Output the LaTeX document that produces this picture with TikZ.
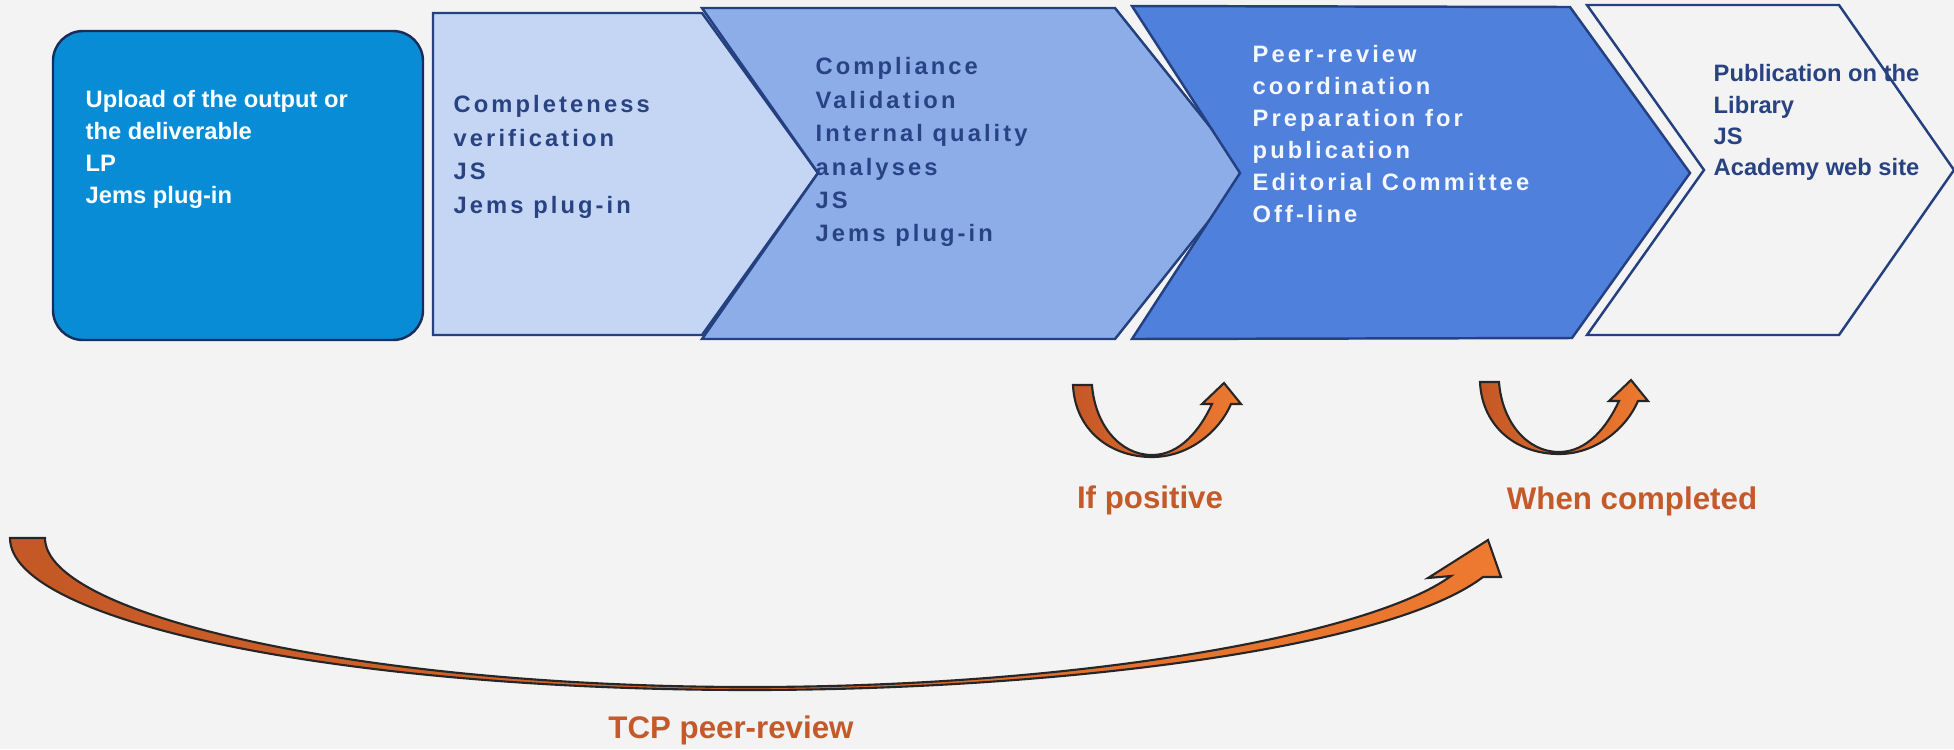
\documentclass[tikz,border=0pt]{standalone}
\usepackage{fontspec}
\setmainfont{Liberation Sans}
\newfontfamily\spacedfont[LetterSpace=13]{Liberation Sans}
\usepackage{xcolor}
\usepackage{tikz}
\definecolor{bgcol}{RGB}{243,243,243}
\definecolor{navy}{RGB}{36,64,128}
\definecolor{txtnavy}{RGB}{40,66,130}
\definecolor{uploadblue}{RGB}{8,140,214}
\definecolor{paleblue}{RGB}{197,214,244}
\definecolor{midblue}{RGB}{140,173,232}
\definecolor{deepblue}{RGB}{78,128,220}
\definecolor{arrowdark}{RGB}{196,88,38}
\definecolor{arrowlight}{RGB}{238,122,48}
\definecolor{condorange}{RGB}{196,89,42}

\begin{document}
\begin{tikzpicture}[x=0.1mm,y=-0.1mm,
stage/.style={draw=navy, line width=0.7pt, line join=miter},
box text/.style={anchor=north west, inner sep=0pt, align=left, font=\bfseries\fontsize{6.75}{9.1}\selectfont},
spaced text/.style={box text, font=\spacedfont\bfseries\fontsize{6.75}{9.5}\selectfont},
cond text/.style={text=condorange, inner sep=0pt, font=\bfseries\fontsize{8.9}{10}\selectfont},
bend arrow/.style={draw=black!85, line width=0.6pt, left color=arrowdark, right color=arrowlight, line join=miter},
uturn/.pic={\path[bend arrow] (0,0) .. controls (2,45) and (37,72) .. (79,72) .. controls (117,72) and (147,45) .. (158,19) -- (168,19) -- (151,-2) -- (129,19) -- (139,19) .. controls (127,45) and (107,70) .. (79,70) .. controls (47,70) and (22,40) .. (19,0) -- cycle;}]
\useasboundingbox (0,0) rectangle (1954,749);
\fill[bgcol] (0,0) rectangle (1954,749);
\draw[stage, fill=uploadblue, draw=navy!70!black, rounded corners=3mm] (53,31) rectangle (423,340);
\draw[stage, fill=paleblue] (433,13) -- (702,13) -- (818,173) -- (702,335) -- (433,335) -- cycle;
\draw[stage, fill=midblue] (702,8) -- (1115,8) -- (1247,173) -- (1115,339) -- (702,339) -- (818,173) -- cycle;
\draw[stage, fill=deepblue] (1132,6) -- (1570,7) -- (1690,173) -- (1572,338) -- (1132,339) -- (1240,173) -- cycle;
\draw[stage, fill=bgcol] (1587,5) -- (1839,5) -- (1954,170) -- (1839,335) -- (1587,335) -- (1704,170) -- cycle;
\node[box text, text=white] (upload) at (85,90) {Upload of the output or\\the deliverable\\LP\\Jems plug-in};
\node[spaced text, text=txtnavy] (complete) at (453,95) {Completeness\\verification\\JS\\Jems plug-in};
\node[spaced text, text=txtnavy] (comply) at (815,57) {Compliance\\Validation\\Internal quality\\analyses\\JS\\Jems plug-in};
\node[spaced text, text=white!94!deepblue, font=\spacedfont\bfseries\fontsize{6.75}{9.1}\selectfont] (peer) at (1252,45) {Peer-review\\coordination\\Preparation for\\publication\\Editorial Committee\\Off-line};
\node[box text, text=txtnavy, font=\bfseries\fontsize{6.75}{8.9}\selectfont] (publish) at (1713,64) {Publication on the\\Library\\JS\\Academy web site};
\pic at (1073,385) {uturn};
\pic at (1480,382) {uturn};
\path[bend arrow] (10,538) .. controls (10,622) and (341,690) .. (750,690) .. controls (1050,690) and (1387,650) .. (1483,577) -- (1501,577) -- (1488,540) -- (1428,578) -- (1451,576) .. controls (1370,635) and (1080,687) .. (750,687) .. controls (360,687) and (45,615) .. (45,538) -- cycle;
\node[cond text] (ifpos) at (1150,500) {If positive};
\node[cond text] (whendone) at (1632,501) {When completed};
\node[cond text] (tcp) at (731,730) {TCP peer-review};
\end{tikzpicture}
\end{document}
